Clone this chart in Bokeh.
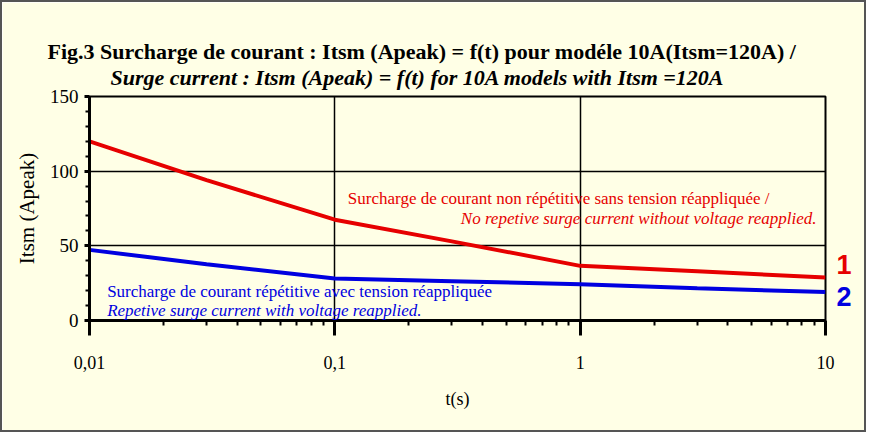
from bokeh.plotting import figure
from bokeh.models import FixedTicker, Label, Title, LinearAxis
from bokeh.embed import file_html
from bokeh.resources import INLINE

# ---- data ----
t_nonrep = [0.01, 0.03, 0.1, 0.3, 1, 3, 10]
i_nonrep = [120, 94, 67.5, 53, 36.6, 33, 28.8]
t_rep = [0.01, 0.03, 0.1, 0.3, 1, 3, 10]
i_rep = [47.3, 37.7, 28.1, 26.3, 24.3, 21.6, 19.1]

x_major = [0.01, 0.1, 1, 10]
x_minor = [0.02, 0.03, 0.04, 0.05, 0.06, 0.07, 0.08, 0.09,
           0.2, 0.3, 0.4, 0.5, 0.6, 0.7, 0.8, 0.9,
           2, 3, 4, 5, 6, 7, 8, 9]
x_labels = {0.01: "0,01", 0.1: "0,1", 1: "1", 10: "10"}
y_major = [0, 50, 100, 150]
y_minor = [10, 20, 30, 40, 60, 70, 80, 90, 110, 120, 130, 140]

# curve numbers shown at the right end, and their heights
curve_ids = ["1", "2"]
curve_id_y = [37.6, 16.0]

title1 = "Fig.3  Surcharge de courant : Itsm (Apeak) = f(t) pour modéle 10A(Itsm=120A) /"
title2 = "Surge current  : Itsm (Apeak) = f(t)  for 10A models with Itsm =120A"
red_txt1 = "Surcharge de courant non répétitive sans tension réappliquée /"
red_txt2 = "No repetive surge current without voltage reapplied."
blue_txt1 = "Surcharge de courant répétitive avec tension réappliquée"
blue_txt2 = "Repetive surge current with voltage reapplied."

BG = "#FFFFE6"
RED = "#E60000"
BLUE = "#0000E0"
SERIF = "Liberation Serif"

p = figure(width=866, height=432, x_axis_type="log", x_range=(0.01, 10), y_range=(0, 150),
           output_backend="svg", toolbar_location=None, title=None,
           min_border_left=87, min_border_right=43, min_border_top=94, min_border_bottom=114)
p.styles = {"border": "2px solid #555555"}
p.background_fill_color = BG
p.border_fill_color = BG
p.outline_line_color = "black"
p.outline_line_width = 2

# titles
p.add_layout(Title(text=title2, align="left", offset=21, text_font=SERIF,
                   text_font_style="bold italic", text_font_size="22px",
                   text_color="black", standoff=13), "above")
p.add_layout(Title(text=title1, align="left", offset=-42, text_font=SERIF,
                   text_font_style="bold", text_font_size="22px",
                   text_color="black", standoff=-14), "above")

# axes
xa = p.xaxis[0]
xa.ticker = FixedTicker(ticks=x_major, minor_ticks=x_minor)
xa.major_label_overrides = x_labels
xa.axis_label = "t(s)"
xa.axis_line_width = 3
xa.major_tick_out = 15
xa.major_tick_in = 0
xa.major_tick_line_width = 3
xa.minor_tick_out = 5
xa.minor_tick_in = 0
xa.minor_tick_line_width = 2
xa.major_label_standoff = 20
xa.axis_label_standoff = 17

ya = p.yaxis[0]
ya.ticker = FixedTicker(ticks=y_major, minor_ticks=y_minor)
ya.axis_label = "Itsm (Apeak)"
ya.axis_line_width = 3
ya.major_tick_out = 5
ya.major_tick_in = 0
ya.major_tick_line_width = 3
ya.minor_tick_out = 4
ya.minor_tick_in = 0
ya.minor_tick_line_width = 2
ya.major_label_standoff = 6
ya.axis_label_standoff = 8

for ax in (xa, ya):
    ax.major_label_text_font = SERIF
    ax.axis_label_text_font = SERIF
    ax.axis_label_text_font_style = "normal"
    ax.major_label_text_color = "black"
    ax.axis_label_text_color = "black"
    ax.axis_line_color = "black"
    ax.major_tick_line_color = "black"
    ax.minor_tick_line_color = "black"
xa.major_label_text_font_size = "18px"
ya.major_label_text_font_size = "19px"
xa.axis_label_text_font_size = "18px"
ya.axis_label_text_font_size = "21px"

for g in (p.xgrid[0], p.ygrid[0]):
    g.grid_line_color = "black"
    g.grid_line_width = 1.5
    g.grid_line_alpha = 1.0

# curve number markers on the right side (as label-only axes)
for k, (cid, cy, col) in enumerate(zip(curve_ids, curve_id_y, [RED, BLUE])):
    ra = LinearAxis(ticker=FixedTicker(ticks=[cy]), major_label_overrides={cy: cid},
                    axis_line_color=None, major_tick_line_color=None, minor_tick_line_color=None,
                    major_label_text_color=col, major_label_text_font="Liberation Sans",
                    major_label_text_font_size="27px", major_label_text_font_style="bold",
                    major_label_standoff=5 if k == 0 else -24)
    p.add_layout(ra, "right")

# curves
p.line(t_nonrep, i_nonrep, line_color=RED, line_width=4)
p.line(t_rep, i_rep, line_color=BLUE, line_width=4)

# annotations
p.add_layout(Label(x=0.113, y=82, text=red_txt1, text_font=SERIF, text_font_size="17px",
                   text_color=RED, text_baseline="middle"))
p.add_layout(Label(x=9.2, y=68, text=red_txt2, text_font=SERIF, text_font_size="17px",
                   text_font_style="italic", text_color=RED, text_baseline="middle", text_align="right"))
p.add_layout(Label(x=0.0118, y=19.5, text=blue_txt1, text_font=SERIF, text_font_size="17px",
                   text_color=BLUE, text_baseline="middle"))
p.add_layout(Label(x=0.0118, y=6.8, text=blue_txt2, text_font=SERIF, text_font_size="17px",
                   text_font_style="italic", text_color=BLUE, text_baseline="middle"))

open("out.html", "w").write(file_html(p, INLINE))
